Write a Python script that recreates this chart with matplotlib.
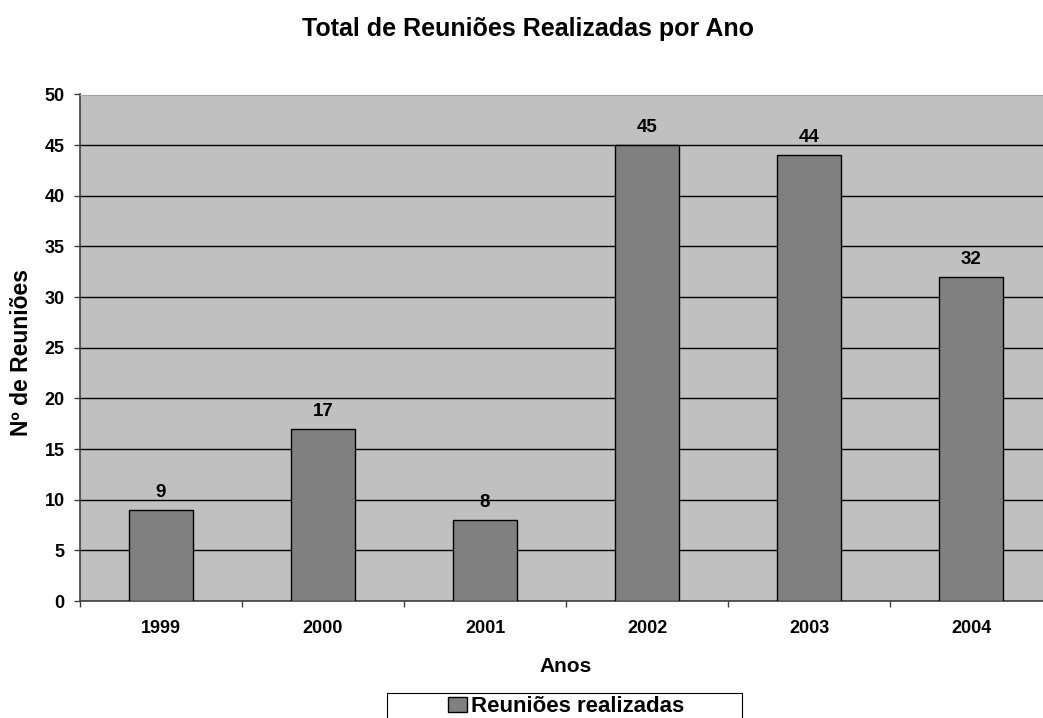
import matplotlib.pyplot as plt
from matplotlib.patches import Patch, Rectangle

plt.rcParams['font.family'] = ['Liberation Sans', 'DejaVu Sans']
plt.rcParams['font.weight'] = 'bold'

anos = ['1999', '2000', '2001', '2002', '2003', '2004']
reunioes = [9, 17, 8, 45, 44, 32]

W, H = 1043, 718


def fx(px):
    return px / W


def fy(py):
    return (H - py) / H


fig = plt.figure(figsize=(W / 100, H / 100), dpi=100)
# plot area in pixels: left 80, right 1052 (runs off the canvas), top 94.5, bottom 601
ax = fig.add_axes([fx(80), fy(601), (1052 - 80) / W, (601 - 94.5) / H])
ax.set_facecolor('#C0C0C0')

x = list(range(len(anos)))
ax.bar(x, reunioes, width=0.4, color='#808080', edgecolor='black',
       linewidth=1.0, zorder=3)
for xi, v in zip(x, reunioes):
    ax.text(xi, v + 0.9, str(v), ha='center', va='bottom', fontsize=13.5,
            fontweight='bold', zorder=4)

ax.set_xlim(-0.5, len(anos) - 0.5)
ax.set_ylim(0, 50)
ax.set_yticks(range(0, 51, 5))
ax.yaxis.grid(True, color='black', linewidth=1.0, zorder=1)
ax.set_axisbelow(True)

# category separators as major ticks, year names as minor labels
ax.set_xticks([i + 0.5 for i in range(-1, len(anos))])
ax.set_xticklabels([])
ax.set_xticks(x, minor=True)
ax.set_xticklabels(anos, minor=True, fontsize=13, fontweight='bold')
ax.tick_params(axis='x', which='minor', length=0, pad=14)
ax.tick_params(axis='x', which='major', length=4.5, color='#404040', width=1)
ax.tick_params(axis='y', length=4.5, color='#404040', width=1, labelsize=13,
               pad=6.5)
for lbl in ax.get_yticklabels():
    lbl.set_fontweight('bold')

for side in ('left', 'bottom'):
    ax.spines[side].set_color('#404040')
    ax.spines[side].set_linewidth(1.2)
ax.spines['top'].set_color('#A0A0A0')
ax.spines['right'].set_visible(False)

fig.text(fx(566), fy(667), 'Anos', ha='center', va='center', fontsize=15,
         fontweight='bold')
fig.text(fx(22), fy(352), 'Nº de Reuniões', ha='center', va='center',
         rotation=90, fontsize=16.5, fontweight='bold')
fig.text(fx(528), fy(36), 'Total de Reuniões Realizadas por Ano', ha='center',
         va='baseline', fontsize=18, fontweight='bold')

# legend box (runs past the bottom edge of the canvas)
fig.patches.append(Rectangle((fx(387), fy(740)), (742 - 387) / W, (740 - 693) / H,
                             transform=fig.transFigure, facecolor='white',
                             edgecolor='black', linewidth=0.8))
handle = Patch(facecolor='#808080', edgecolor='black', linewidth=1.0)
leg = fig.legend([handle], ['Reuniões realizadas'], loc='center left',
                 bbox_to_anchor=(fx(448), fy(707)), fontsize=16,
                 frameon=False, handlelength=0.86, handleheight=0.65,
                 handletextpad=0.17, borderpad=0, borderaxespad=0)
for t in leg.get_texts():
    t.set_fontweight('bold')

fig.savefig('out.png', dpi=100)
